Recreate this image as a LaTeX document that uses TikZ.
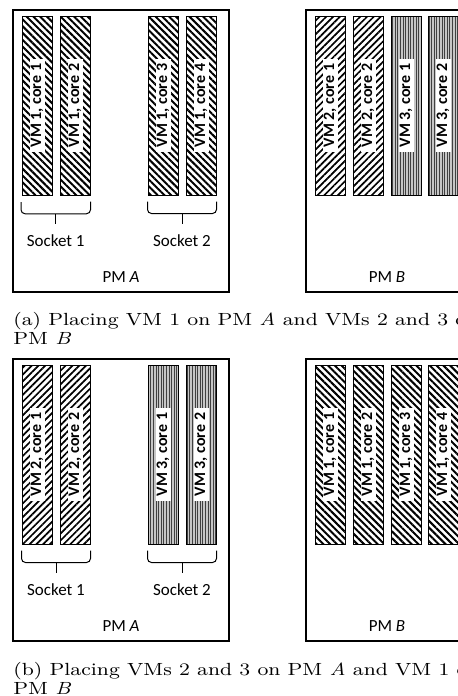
\documentclass[tikz,border=0pt]{standalone}
\usepackage{fontspec}
\setmainfont{Latin Modern Roman}[FakeStretch=1.2]
\setsansfont{Carlito}
\usetikzlibrary{patterns.meta,calc}

\tikzset{
  pmbox/.style={draw, line width=1pt},
  core/.style={draw, line width=0.5pt, minimum width=15pt, minimum height=89.5pt, inner sep=0pt},
  vmone/.style={core, pattern={Lines[angle=-45,distance=2.4pt,line width=1pt]}},
  vmtwo/.style={core, pattern={Lines[angle=45,distance=2.4pt,line width=0.85pt]}},
  vmthree/.style={core, preaction={fill=gray!45}, pattern color=black!75,
    pattern={Lines[angle=90,distance=1.3pt,line width=0.35pt]}},
  corelbl/.style={fill=white, rotate=90, font=\sffamily\bfseries\fontsize{8}{9}\selectfont,
    inner xsep=2.4pt, inner ysep=0pt, text height=5.8pt, text depth=1.7pt},
  lbl/.style={font=\sffamily\fontsize{8.5}{10}\selectfont, inner sep=0pt},
  captxt/.style={font=\fontsize{8.8}{10}\selectfont, inner sep=0pt, anchor=base west},
  brace/.style={line width=0.5pt, rounded corners=2pt}
}

\begin{document}
\begin{tikzpicture}[x=0.5pt, y=-0.5pt]
    \useasboundingbox (0,0) rectangle (458,696);
    \clip (0,0) rectangle (458,696);

    % (a) PM A: VM 1 over both sockets
    \draw[pmbox] (13,10) rectangle (229,292);
    \node[vmone] (a1) at (37,105.5) {};
    \node[vmone] (a2) at (75,105.5) {};
    \node[vmone] (a3) at (163,105.5) {};
    \node[vmone] (a4) at (201,105.5) {};
    \node[corelbl] at (a1) {VM 1, core 1};
    \node[corelbl] at (a2) {VM 1, core 2};
    \node[corelbl] at (a3) {VM 1, core 3};
    \node[corelbl] at (a4) {VM 1, core 4};

    % sockets
    \coordinate (s1) at ($(a1.south west)!.5!(a2.south east)+(0,18)$);
    \coordinate (s2) at ($(a3.south west)!.5!(a4.south east)+(0,18)$);
    \draw[brace] ($(a1.south west)+(0,6)$) |- (s1) -| ($(a2.south east)+(0,6)$);
    \draw[brace] ($(a3.south west)+(0,6)$) |- (s2) -| ($(a4.south east)+(0,6)$);
    \draw[line width=0.5pt] (s1) -- ++(0,10);
    \draw[line width=0.5pt] (s2) -- ++(0,10);
    \node[lbl] (sock1) at ($(s1)+(0,27)$) {Socket 1};
    \node[lbl] (sock2) at ($(s2)+(0,27)$) {Socket 2};
    \node[lbl] (pmA) at (121,277) {PM \textit{A}};

    % (a) PM B: VMs 2 and 3
    \draw[pmbox] (306,10) rectangle (522,292);
    \node[vmtwo] (b1) at (330,105.5) {};
    \node[vmtwo] (b2) at (368,105.5) {};
    \node[vmthree] (b3) at (406,105.5) {};
    \node[vmthree] (b4) at (443,105.5) {};
    \node[corelbl] at (b1) {VM 2, core 1};
    \node[corelbl] at (b2) {VM 2, core 2};
    \node[corelbl] at (b3) {VM 3, core 1};
    \node[corelbl] at (b4) {VM 3, core 2};
    \node[lbl] (pmB) at (387,277) {PM \textit{B}};

    \node[captxt] (capa1) at (13,325) {(a) Placing VM 1 on PM \textit{A} and VMs 2 and 3 on};
    \node[captxt] (capa2) at (13,344) {PM \textit{B}};

    % (b) PM A: VMs 2 and 3
    \draw[pmbox] (13,359) rectangle (229,641);
    \node[vmtwo] (c1) at (37,454.5) {};
    \node[vmtwo] (c2) at (75,454.5) {};
    \node[vmthree] (c3) at (163,454.5) {};
    \node[vmthree] (c4) at (201,454.5) {};
    \node[corelbl] at (c1) {VM 2, core 1};
    \node[corelbl] at (c2) {VM 2, core 2};
    \node[corelbl] at (c3) {VM 3, core 1};
    \node[corelbl] at (c4) {VM 3, core 2};

    % sockets
    \coordinate (t1) at ($(c1.south west)!.5!(c2.south east)+(0,18)$);
    \coordinate (t2) at ($(c3.south west)!.5!(c4.south east)+(0,18)$);
    \draw[brace] ($(c1.south west)+(0,6)$) |- (t1) -| ($(c2.south east)+(0,6)$);
    \draw[brace] ($(c3.south west)+(0,6)$) |- (t2) -| ($(c4.south east)+(0,6)$);
    \draw[line width=0.5pt] (t1) -- ++(0,10);
    \draw[line width=0.5pt] (t2) -- ++(0,10);
    \node[lbl] (sock3) at ($(t1)+(0,27)$) {Socket 1};
    \node[lbl] (sock4) at ($(t2)+(0,27)$) {Socket 2};
    \node[lbl] (pmA2) at (121,626) {PM \textit{A}};

    % (b) PM B: VM 1
    \draw[pmbox] (306,359) rectangle (522,641);
    \node[vmone] (d1) at (330,454.5) {};
    \node[vmone] (d2) at (368,454.5) {};
    \node[vmone] (d3) at (406,454.5) {};
    \node[vmone] (d4) at (443,454.5) {};
    \node[corelbl] at (d1) {VM 1, core 1};
    \node[corelbl] at (d2) {VM 1, core 2};
    \node[corelbl] at (d3) {VM 1, core 3};
    \node[corelbl] at (d4) {VM 1, core 4};
    \node[lbl] (pmB2) at (387,626) {PM \textit{B}};

    \node[captxt] (capb1) at (13,675) {(b) Placing VMs 2 and 3 on PM \textit{A} and VM 1 on};
    \node[captxt] (capb2) at (13,694) {PM \textit{B}};
\end{tikzpicture}
\end{document}
